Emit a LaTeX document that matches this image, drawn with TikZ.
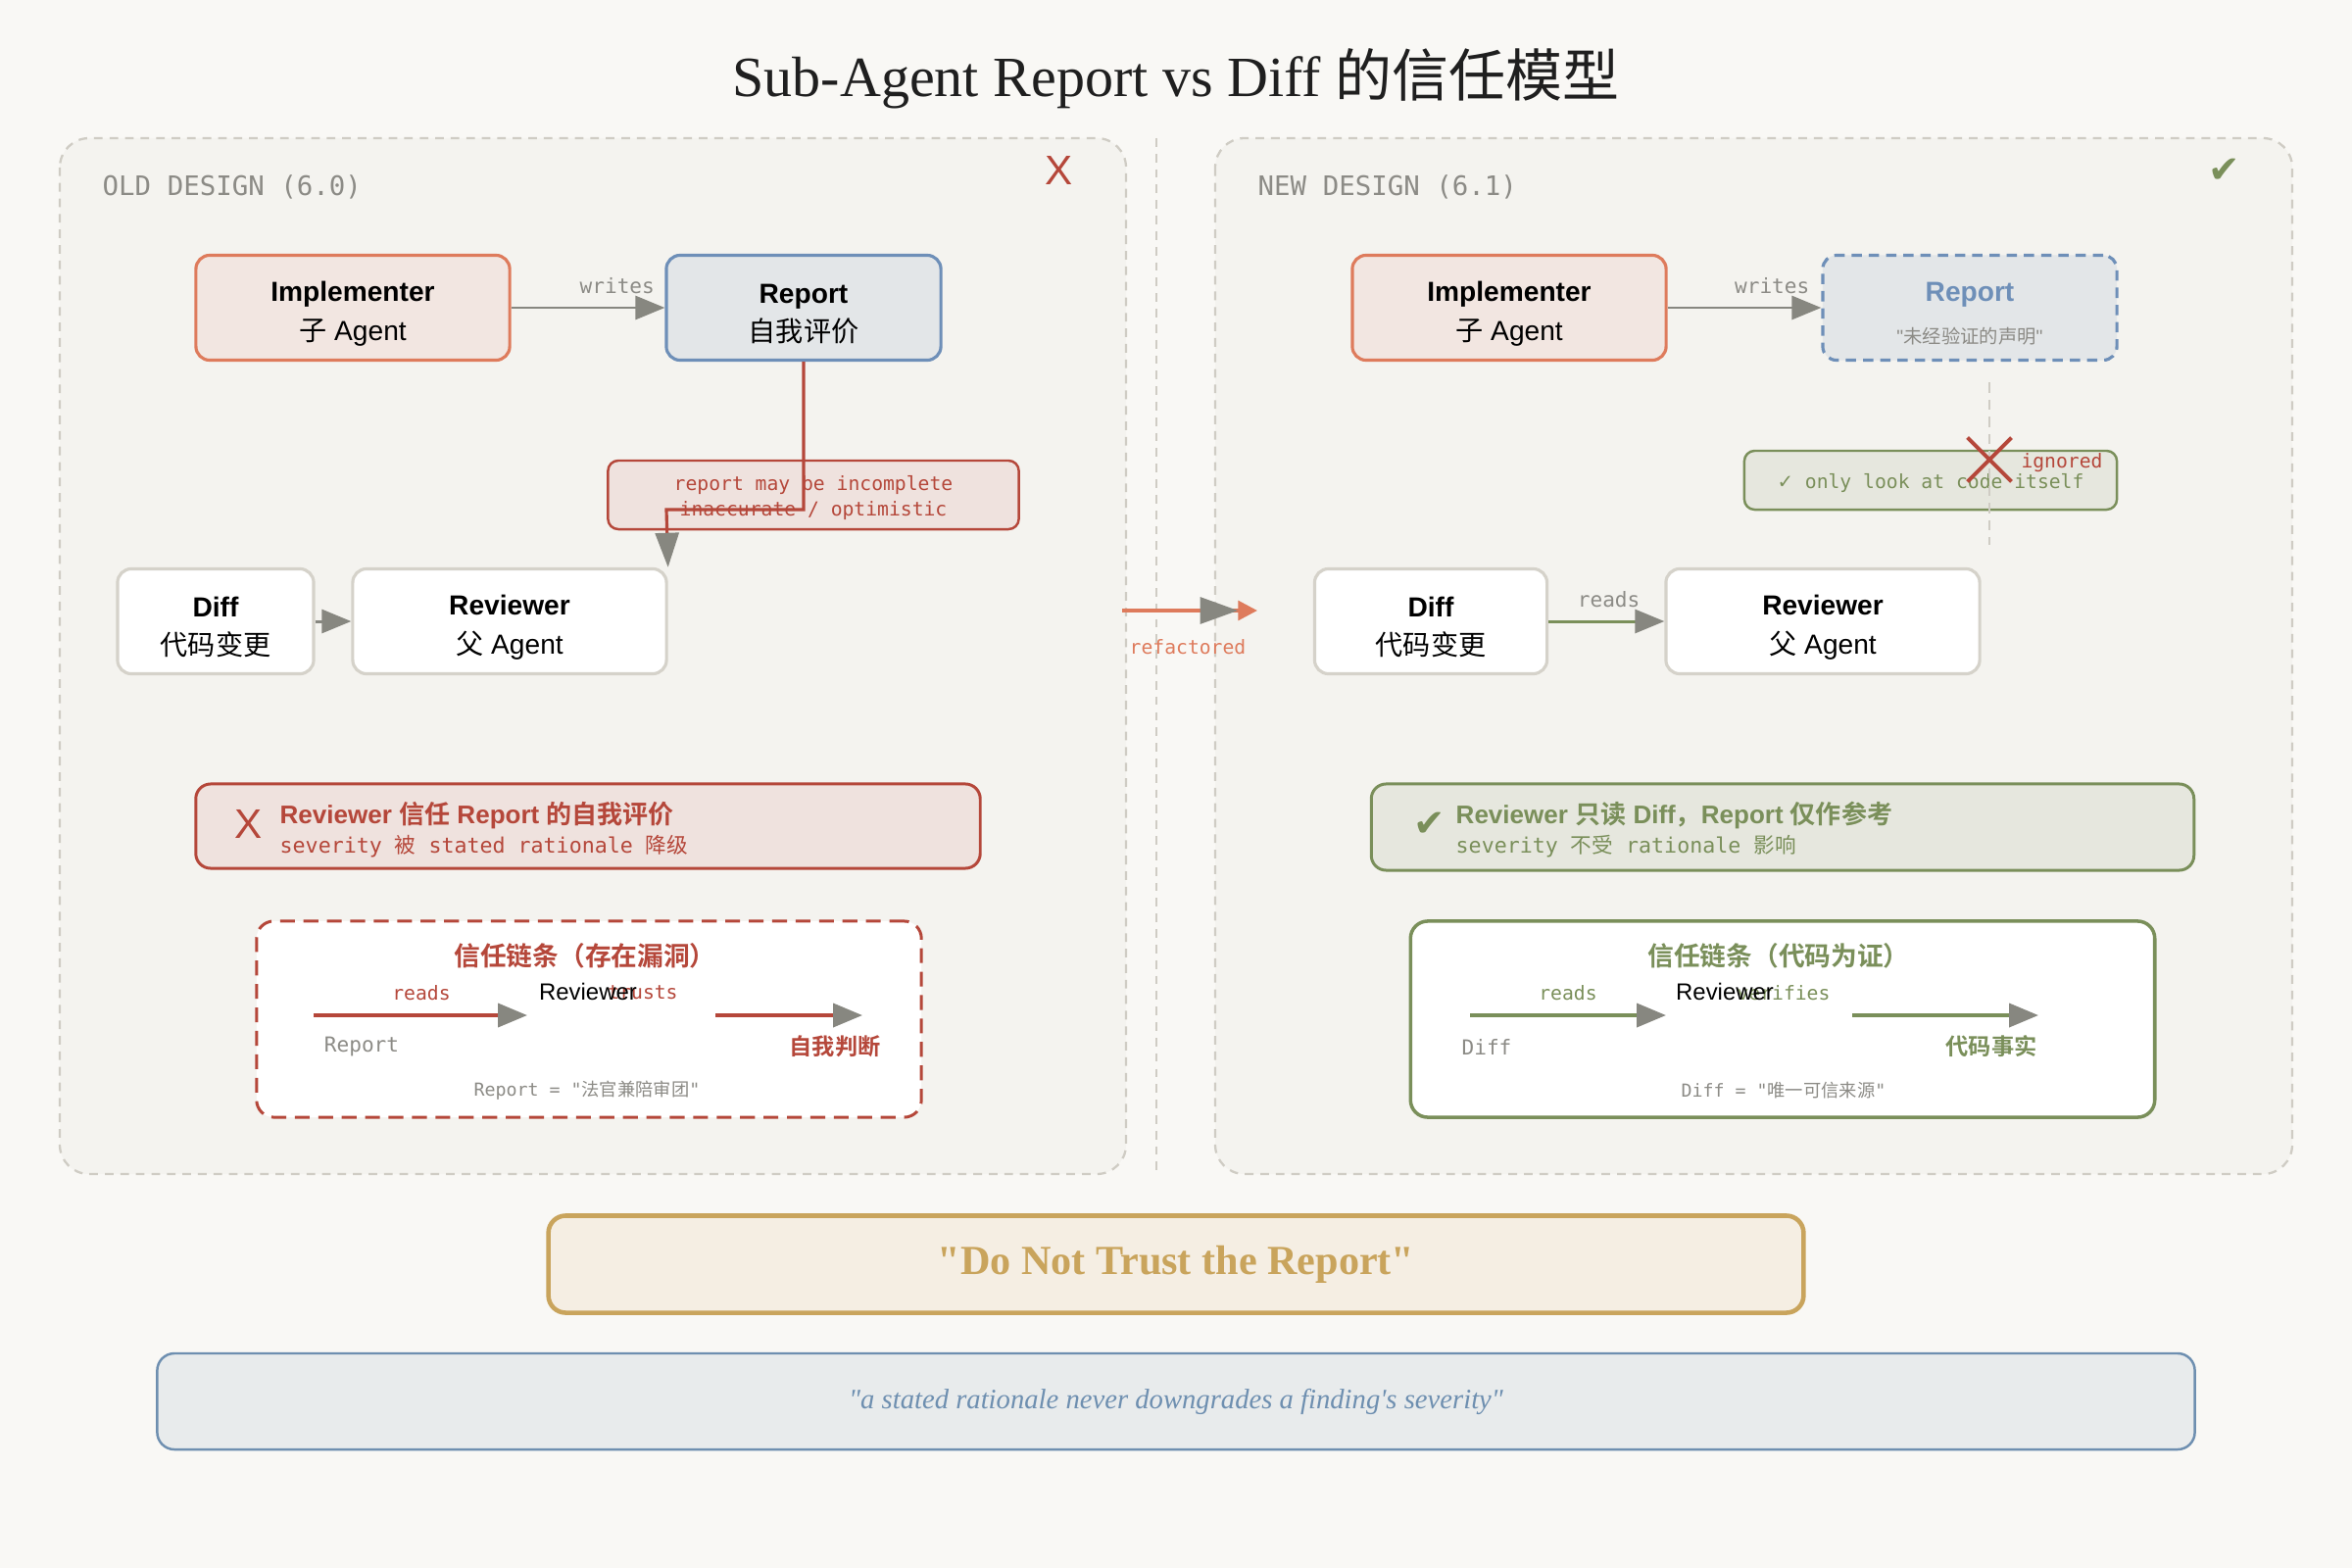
\documentclass[tikz,border=0pt]{standalone}
\usepackage{fontspec}
\setmainfont{Liberation Serif}
\setsansfont{Liberation Sans}
\setmonofont{DejaVu Sans Mono}
\newfontfamily\serifplain{Liberation Serif}
\newfontfamily\sansplain{Liberation Sans}
\newfontfamily\cjk{Noto Sans CJK SC}[BoldFont={Noto Sans CJK SC Bold}]
\newfontfamily\dejavu{DejaVu Sans}
\newcommand\zh[1]{{\cjk #1}}
\newcommand\fsz[2]{\fontsize{#1}{#2}\selectfont}
\newcommand\topstrut{\rule{0pt}{9.2pt}}
\usepackage{tikz}
\usetikzlibrary{arrows.meta, positioning, calc, shapes.misc}

\definecolor{paper}{HTML}{F9F8F5}
\definecolor{panelfill}{HTML}{F4F3EF}
\definecolor{panelline}{HTML}{CFCCC4}
\definecolor{implline}{HTML}{DE7B5C}
\definecolor{implfill}{HTML}{F2E6E1}
\definecolor{repline}{HTML}{6E8FB8}
\definecolor{repfill}{HTML}{E3E6E8}
\definecolor{nodeline}{HTML}{D5D2CA}
\definecolor{warnred}{HTML}{B5473A}
\definecolor{warnfill}{HTML}{EFE2DE}
\definecolor{okgreen}{HTML}{7A8F5A}
\definecolor{okfill}{HTML}{E6E7DE}
\definecolor{tipgray}{HTML}{878780}
\definecolor{mutegray}{HTML}{8C8B86}
\definecolor{gold}{HTML}{C9A45C}
\definecolor{goldfill}{HTML}{F5EEE3}
\definecolor{quotefill}{HTML}{E8EBEC}
\definecolor{quoteline}{HTML}{6E8FB0}
\definecolor{inkdark}{HTML}{1F1F1F}

\begin{document}
\begin{tikzpicture}[x=0.01cm, y=-0.01cm,
  panel/.style={draw=panelline, fill=panelfill, dash pattern=on 2.5pt off 2pt, line width=0.65pt, rounded corners=8.5pt},
  tag/.style={font=\ttfamily\fsz{7.8}{9}, text=mutegray, inner sep=0pt},
  agentbox/.style={draw=implline, fill=implfill, line width=0.9pt, rounded corners=4pt, minimum width=3.2cm, minimum height=1.07cm, inner sep=0pt, align=center, font=\sffamily\fsz{8}{11.3}},
  reportbox/.style={agentbox, draw=repline, fill=repfill, minimum width=2.8cm},
  plainbox/.style={agentbox, draw=nodeline, fill=white},
  notebox/.style={draw=warnred, fill=warnfill, line width=0.7pt, rounded corners=3pt, inner sep=0pt, align=center, font=\ttfamily\fsz{5.6}{7.6}, text=warnred},
  flow/.style={draw=tipgray, line width=0.85pt, -{Triangle[length=8.5pt, width=6.8pt, color=tipgray]}},
  chain/.style={line width=1.1pt, -{Triangle[length=8.5pt, width=6.8pt, color=tipgray]}},
  lbl/.style={font=\ttfamily\fsz{6}{7}, text=mutegray, inner sep=0pt},
  small/.style={font=\ttfamily\fsz{5.6}{7}, inner sep=0pt},
  verdict/.style={line width=0.85pt, rounded corners=4.3pt, inner sep=0pt},
  headline/.style={anchor=west, font=\sffamily\bfseries\fsz{7.4}{9}, inner sep=0pt},
  subline/.style={anchor=west, font=\ttfamily\fsz{6.15}{7}, inner sep=0pt},
  chainbox/.style={fill=white, line width=0.85pt, rounded corners=5pt, minimum width=6.78cm, minimum height=2cm},
  chainhead/.style={font=\sffamily\bfseries\fsz{7.6}{9}},
  who/.style={font=\sffamily\fsz{6.8}{8}, text=black, inner sep=0pt},
  foot/.style={font=\ttfamily\fsz{5.2}{6}, text=mutegray, inner sep=0pt}]

  % 背景
  \fill[paper] (0,0) rectangle (2400,1600);
  \useasboundingbox (0,0) rectangle (2400,1600);

  \node[font=\fsz{16.5}{20}, text=inkdark] (title) at (1200,80) {Sub-Agent Report vs Diff \zh{的信任模型}};

  % 两个面板
  \draw[panel] (61,141) rectangle (1149,1198);
  \draw[panel] (1240,141) rectangle (2339,1198);
  \draw[panelline, dash pattern=on 2.5pt off 2pt, line width=0.6pt] (1180,141) -- (1180,1198);

  \node[tag, anchor=west] (oldTag) at (104,191) {OLD DESIGN (6.0)};
  \node[tag, anchor=west] (newTag) at (1283,191) {NEW DESIGN (6.1)};
  \node[font=\sffamily\fsz{12}{14}, text=warnred] (oldMark) at (1081,174) {X};
  \node[font=\dejavu\fsz{11}{13}, text=okgreen] (newMark) at (2270,174) {✔};

  % 旧设计 (6.0)
  \node[agentbox] (implOld) at (360,314) {\topstrut\textbf{Implementer}\\\zh{子} Agent};
  \node[reportbox] (reportOld) at (820,314) {\topstrut\textbf{Report}\\\zh{自我评价}};
  \node[plainbox, minimum width=2cm] (diffOld) at (220,634) {\topstrut\textbf{Diff}\\\zh{代码变更}};
  \node[plainbox] (reviewerOld) at (520,634) {\topstrut\textbf{Reviewer}\\\zh{父} Agent};
  \node[notebox, minimum width=4.19cm, minimum height=0.7cm] (noteOld) at (830,505) {\rule{0pt}{6pt}report may be incomplete\\inaccurate / optimistic};
  \coordinate (bendOld) at (680,520);

  \draw[flow] (implOld) -- (reportOld) node[lbl, pos=0.69, yshift=6.5pt] (writesOld) {writes};
  \draw[flow] (diffOld) -- (reviewerOld);
  \draw[warnred, line width=0.9pt, -{Triangle[length=10pt, width=6.8pt, color=tipgray]}]
    (reportOld.south) |- (bendOld) -- (reviewerOld.north east);

  % refactored
  \coordinate (refFrom) at (1145,623);
  \coordinate (refTo) at (1283,623);
  \draw[implline, line width=1.1pt, -{Triangle[length=11pt, width=7.6pt, color=tipgray] Triangle[length=5.6pt, width=5.6pt, color=implline]}]
    (refFrom) -- (refTo);
  \node[small, text=implline] (refLbl) at (1212,660) {refactored};

  % 新设计 (6.1)
  \node[agentbox] (implNew) at (1540,314) {\topstrut\textbf{Implementer}\\\zh{子} Agent};
  \node[reportbox, dash pattern=on 3pt off 2pt, minimum width=3cm] (reportNew) at (2010,314)
    {\topstrut\textcolor{repline}{\textbf{Report}}\\[1pt]{\sansplain\fsz{5.5}{7}\color{mutegray}"\zh{未经验证的声明}"}};
  \node[plainbox, minimum width=2.37cm] (diffNew) at (1460,634) {\topstrut\textbf{Diff}\\\zh{代码变更}};
  \node[plainbox] (reviewerNew) at (1860,634) {\topstrut\textbf{Reviewer}\\\zh{父} Agent};
  \node[notebox, draw=okgreen, fill=okfill, text=okgreen, minimum width=3.8cm, minimum height=0.6cm] (onlyNew) at (1970,490)
    {\rule{0pt}{6pt}{\dejavu ✓} only look at code itself};
  \coordinate (ignTop) at (2030,390);
  \coordinate (ignBot) at (2030,556);
  \draw[panelline, dash pattern=on 3pt off 2pt, line width=0.7pt] (ignTop) -- (ignBot);
  \node[draw=warnred, cross out, line width=1.1pt, minimum size=0.41cm, inner sep=0pt] (ignX) at (2030,469) {};
  \node[small, text=warnred] (ignLbl) at (2104,472) {ignored};

  \draw[flow] (implNew) -- (reportNew) node[lbl, pos=0.68, yshift=6.5pt] (writesNew) {writes};
  \draw[flow, draw=okgreen] (diffNew) -- (reviewerNew) node[lbl, pos=0.52, yshift=6.5pt] (readsNew) {reads};

  % 结论
  \node[verdict, draw=warnred, fill=warnfill, minimum width=8cm, minimum height=0.86cm] (verdictOld) at (600,843) {};
  \node[font=\sffamily\fsz{12}{14}, text=warnred] (verdictOldMark) at (254,841) {X};
  \node[headline, text=warnred] (verdictOldHead) at (285,832) {Reviewer \zh{信任} Report \zh{的自我评价}};
  \node[subline, text=warnred] (verdictOldSub) at (285,864) {severity \zh{被} stated rationale \zh{降级}};

  \node[verdict, draw=okgreen, fill=okfill, minimum width=8.39cm, minimum height=0.88cm] (verdictNew) at (1819,844) {};
  \node[font=\dejavu\fsz{11}{13}, text=okgreen] (verdictNewMark) at (1459,841) {✔};
  \node[headline, text=okgreen] (verdictNewHead) at (1485,832) {Reviewer \zh{只读} Diff\zh{，}Report \zh{仅作参考}};
  \node[subline, text=okgreen] (verdictNewSub) at (1485,864) {severity \zh{不受} rationale \zh{影响}};

  % 信任链条（旧）
  \node[chainbox, draw=warnred, dash pattern=on 4.3pt off 2.5pt] (chainOld) at (601,1040) {};
  \node[chainhead, text=warnred] (chainOldHead) at (597,975) {\zh{信任链条（存在漏洞）}};
  \coordinate (oldA) at (320,1036);
  \coordinate (oldB) at (538,1036);
  \coordinate (oldC) at (730,1036);
  \coordinate (oldD) at (880,1036);
  \draw[chain, draw=warnred] (oldA) -- (oldB);
  \draw[chain, draw=warnred] (oldC) -- (oldD);
  \node[small, text=warnred] (oldReads) at (430,1013) {reads};
  \node[small, text=warnred] (oldTrusts) at (656,1013) {trusts};
  \node[who] (oldWho) at (600,1012) {Reviewer};
  \node[lbl] (oldSrc) at (369,1068) {Report};
  \node[chainhead, font=\sffamily\bfseries\fsz{6.6}{8}, text=warnred] (oldEnd) at (852,1068) {\zh{自我判断}};
  \node[foot] (oldFoot) at (599,1113) {Report = "\zh{法官兼陪审团}"};

  % 信任链条（新）
  \node[chainbox, draw=okgreen, line width=1pt, minimum width=7.59cm] (chainNew) at (1819,1040) {};
  \node[chainhead, text=okgreen] (chainNewHead) at (1815,975) {\zh{信任链条（代码为证）}};
  \coordinate (newA) at (1500,1036);
  \coordinate (newB) at (1700,1036);
  \coordinate (newC) at (1890,1036);
  \coordinate (newD) at (2080,1036);
  \draw[chain, draw=okgreen] (newA) -- (newB);
  \draw[chain, draw=okgreen] (newC) -- (newD);
  \node[small, text=okgreen] (newReads) at (1600,1013) {reads};
  \node[small, text=okgreen] (newVerifies) at (1820,1013) {verifies};
  \node[who] (newWho) at (1760,1012) {Reviewer};
  \node[lbl] (newSrc) at (1517,1068) {Diff};
  \node[chainhead, font=\sffamily\bfseries\fsz{6.6}{8}, text=okgreen] (newEnd) at (2032,1068) {\zh{代码事实}};
  \node[foot] (newFoot) at (1820,1113) {Diff = "\zh{唯一可信来源}"};

  % 底部
  \node[draw=gold, fill=goldfill, line width=1.3pt, rounded corners=5pt, minimum width=12.8cm, minimum height=0.99cm,
    font=\serifplain\bfseries\fsz{12}{14}, text=gold] (motto) at (1200,1290) {"Do Not Trust the Report"};
  \node[draw=quoteline, fill=quotefill, line width=0.7pt, rounded corners=5pt, minimum width=20.78cm, minimum height=0.98cm,
    font=\serifplain\itshape\fsz{8.15}{10}, text=quoteline] (quote) at (1200,1430) {"a stated rationale never downgrades a finding's severity"};
\end{tikzpicture}
\end{document}
